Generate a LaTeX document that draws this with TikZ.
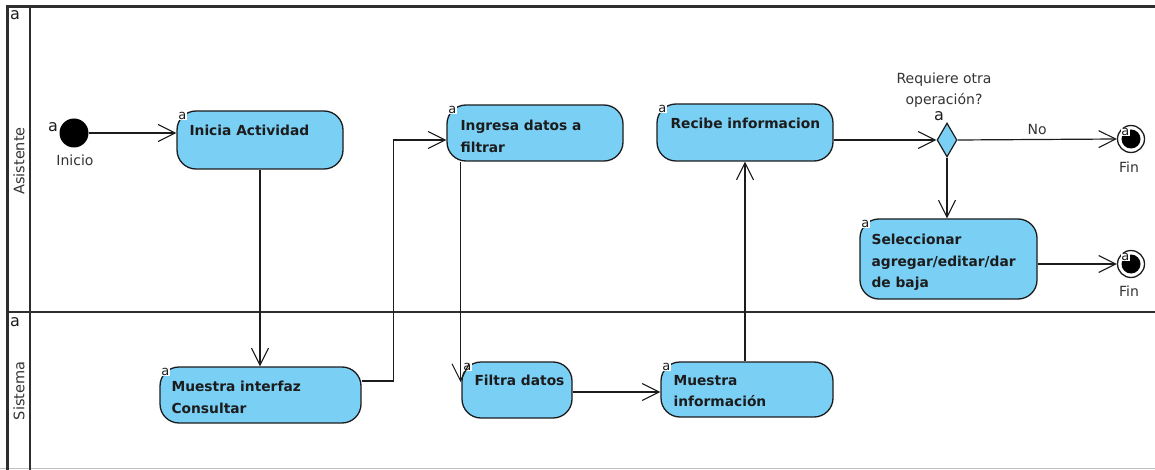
\documentclass[tikz,border=0pt]{standalone}
\usepackage{fontspec}
\setmainfont{DejaVu Sans}
\usetikzlibrary{arrows.meta,shapes.geometric}

\definecolor{actfill}{RGB}{122,207,245}
\definecolor{ink}{RGB}{28,28,28}
\definecolor{labelgray}{RGB}{51,51,51}

\tikzset{
  lane/.style={draw=black!82, line width=2.8pt},
  act/.style={draw=ink, line width=1.3pt, fill=actfill, rounded corners=19pt,
    inner sep=0pt},
  acttext/.style={anchor=north west, inner sep=0pt, align=left,
    font=\fontsize{13.8}{21.5}\selectfont\bfseries, text=ink},
  tag/.style={anchor=north west, fill=white, inner sep=0.3pt,
    font=\fontsize{13}{13}\selectfont, text=ink},
  bigtag/.style={inner sep=0pt, font=\fontsize{16}{16}\selectfont, text=ink},
  lbl/.style={inner sep=0pt, font=\fontsize{14}{21}\selectfont, text=labelgray},
  lanelbl/.style={inner sep=0pt, font=\fontsize{14.5}{14.5}\selectfont,
    text=labelgray, rotate=90},
  initnode/.style={circle, fill=black, minimum size=29pt, inner sep=0pt},
  finalnode/.style={circle, draw=ink, line width=1.3pt, fill=white,
    minimum size=27pt, inner sep=0pt,
    path picture={\fill[black] (path picture bounding box.center) circle (9.5pt);}},
  decision/.style={diamond, draw=ink, line width=1.2pt, fill=actfill,
    minimum width=20pt, minimum height=34pt, inner sep=0pt},
  flow/.style={draw=ink, line width=1.2pt,
    -{Straight Barb[length=17pt,width=17pt,line width=1.1pt]}}
}

\begin{document}
\begin{tikzpicture}[x=1pt,y=-1pt]
\useasboundingbox (0,0) rectangle (1155,470);

% swimlane frame
\draw[draw=black!25, line width=1.2pt] (0,468.5) -- (1155,468.5);
\draw[lane] (7.5,470) -- (7.5,6.5) -- (1155,6.5);
\draw[lane] (30,6.5) -- (30,470);
\draw[lane] (7.5,312) -- (1155,312);

\node[bigtag] (laneAtag) at (15,15) {a};
\node[bigtag] (laneBtag) at (15,322) {a};
\node[lanelbl] (laneA) at (19,161) {Asistente};
\node[lanelbl] (laneB) at (19,391) {Sistema};

% start node
\node[initnode] (start) at (74,133) {};
\node[bigtag] (starttag) at (53,127) {a};
\node[lbl] (starttxt) at (75,160) {Inicio};

% activities
\node[act, minimum width=166pt, minimum height=58pt] (inicia) at (260,140) {};
\node[act, minimum width=176pt, minimum height=56pt] (ingresa) at (535,133) {};
\node[act, minimum width=176pt, minimum height=57pt] (recibe) at (745,132.5) {};
\node[act, minimum width=177pt, minimum height=80pt] (selec) at (948.5,259) {};
\node[act, minimum width=201pt, minimum height=56pt] (muestraI) at (260.5,395) {};
\node[act, minimum width=110pt, minimum height=56pt] (filtra) at (517,390) {};
\node[act, minimum width=172pt, minimum height=55pt] (muestraInf) at (747,389.5) {};

\foreach \n in {inicia,ingresa,recibe,selec,muestraI,filtra,muestraInf}
  \node[tag] (\n-tag) at ([shift={(1.5,1.5)}]\n.north west) {a};

\node[acttext] (inicia-txt) at ([shift={(13,14.5)}]inicia.north west) {Inicia Actividad};
\node[acttext] (ingresa-txt) at ([shift={(14,15.5)}]ingresa.north west) {Ingresa datos a\\filtrar};
\node[acttext] (recibe-txt) at ([shift={(14,14.5)}]recibe.north west) {Recibe informacion};
\node[acttext] (selec-txt) at ([shift={(12,15.5)}]selec.north west) {Seleccionar\\agregar/editar/dar\\de baja};
\node[acttext] (muestraI-txt) at ([shift={(12,14.5)}]muestraI.north west) {Muestra interfaz\\Consultar};
\node[acttext] (filtra-txt) at ([shift={(13,13.5)}]filtra.north west) {Filtra datos};
\node[acttext] (muestraInf-txt) at ([shift={(13,13.5)}]muestraInf.north west) {Muestra\\información};

% decision
\node[decision] (dec) at (947,140) {};
\node[bigtag] (dectag) at ([shift={(-8,-6)}]dec.north) {a};
\node[lbl, align=center] (question) at (944,90) {Requiere otra\\operación?};

% final nodes
\node[finalnode] (fin1) at (1131,139) {};
\node[finalnode] (fin2) at (1131,264) {};
\node[tag, inner sep=0.2pt] (fin1tag) at ([shift={(-10,-11)}]fin1.center) {a};
\node[tag, inner sep=0.2pt] (fin2tag) at ([shift={(-10,-11)}]fin2.center) {a};
\node[lbl] (fin1txt) at (1129,167) {Fin};
\node[lbl] (fin2txt) at (1129,291) {Fin};

% control flows
\draw[flow] (start.east) -- (start.east -| inicia.west);
\draw[flow] (inicia.south) -- (inicia.south |- muestraI.north);
\draw[flow] ([yshift=14pt]muestraI.east) -- ++(32,0) |- ([yshift=-7pt]ingresa.west);
\draw[flow] ([xshift=-0.85pt]ingresa.south -| filtra.west) -- ([shift={(-0.85pt,8pt)}]filtra.west);
\draw[flow] ([yshift=-2pt]filtra.east) -- ([yshift=-2pt]filtra.east -| muestraInf.west);
\draw[flow] (recibe.south |- muestraInf.north) -- (recibe.south);
\draw[flow] ([yshift=-7.5pt]recibe.east) -- (dec.west);
\draw[flow] (dec.east) -- node[lbl, above=4pt] (nolbl) {No} (fin1.west);
\draw[flow] (dec.south) -- (dec.south |- selec.north);
\draw[flow] (selec.east |- fin2) -- (fin2.west);

\end{tikzpicture}
\end{document}
